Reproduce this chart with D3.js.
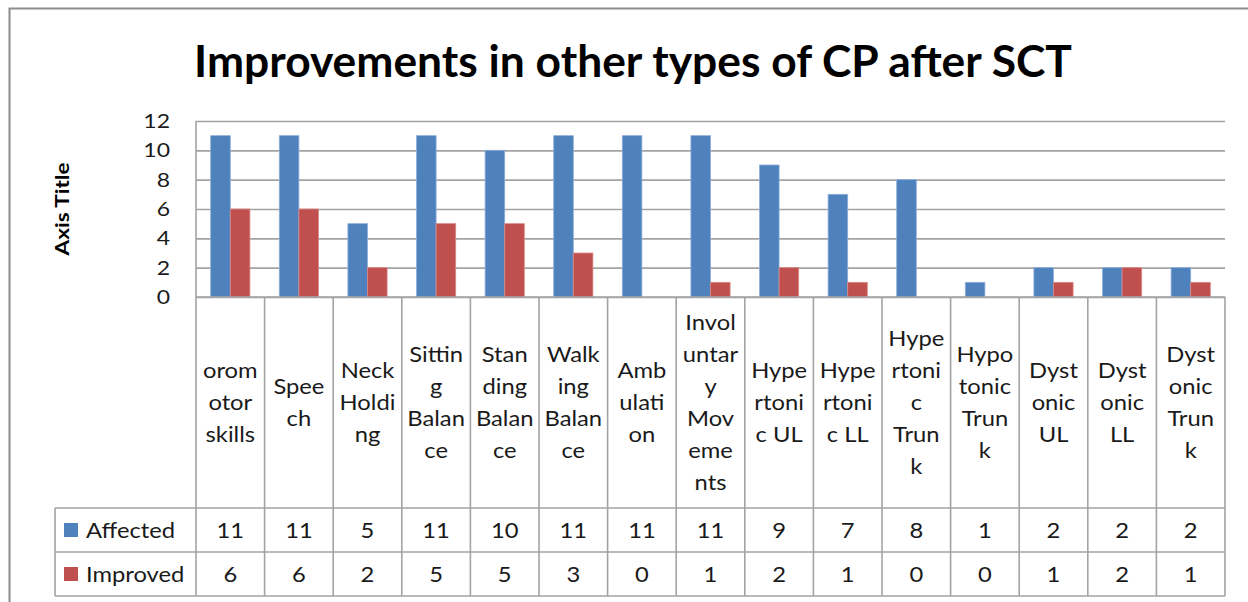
<!DOCTYPE html>
<html>
<head>
<meta charset="utf-8">
<script src="https://cdn.jsdelivr.net/npm/d3@7"></script>
<style>
  html, body { margin: 0; padding: 0; background: #fff; }
  svg { display: block; }
</style>
</head>
<body>
<svg id="chart" width="1248" height="602"></svg>
<script>
// ---- data ----
const title = "Improvements in other types of CP after SCT";
const yAxisTitle = "Axis Title";
const categories = ["oromotor skills", "Speech", "Neck Holding", "Sitting Balance", "Standing Balance",
  "Walking Balance", "Ambulation", "Involuntary Movements", "Hypertonic UL", "Hypertonic LL",
  "Hypertonic Trunk", "Hypotonic Trunk", "Dystonic UL", "Dystonic LL", "Dystonic Trunk"];
// category labels as they are wrapped in the data table
const categoryLabelLines = [
  ["orom", "otor", "skills"], ["Spee", "ch"], ["Neck", "Holdi", "ng"], ["Sittin", "g", "Balan", "ce"],
  ["Stan", "ding", "Balan", "ce"], ["Walk", "ing", "Balan", "ce"], ["Amb", "ulati", "on"],
  ["Invol", "untar", "y", "Mov", "eme", "nts"], ["Hype", "rtoni", "c UL"], ["Hype", "rtoni", "c LL"],
  ["Hype", "rtoni", "c", "Trun", "k"], ["Hypo", "tonic", "Trun", "k"], ["Dyst", "onic", "UL"],
  ["Dyst", "onic", "LL"], ["Dyst", "onic", "Trun", "k"]];
const seriesNames = ["Affected", "Improved"];
const affected = [11, 11, 5, 11, 10, 11, 11, 11, 9, 7, 8, 1, 2, 2, 2];
const improved = [6, 6, 2, 5, 5, 3, 0, 1, 2, 1, 0, 0, 1, 2, 1];
const yTicks = [0, 2, 4, 6, 8, 10, 12];

// ---- layout ----
const colors = { Affected: "#4F81BD", Improved: "#C0504D" };
const strokes = { Affected: "#8EAEDA", Improved: "#D98886" };
const seriesValues = { Affected: affected, Improved: improved };
const plot = { left: 196, right: 1225, top: 121, bottom: 297 };
const table = { catBottom: 508, row1Bottom: 552, row2Bottom: 596, legendLeft: 55 };
const gridColor = "#A3A3A3";
const textColor = "#1a1a1a";
const font = "Lato, 'Open Sans', sans-serif";
const bodySize = 22, bodyStretch = 1.08;
const tickSize = 20, tickStretch = 1.15;

const svg = d3.select("#chart");

// horizontally stretched text helper
function stext(parent, x, y, str, size, sx, anchor, weight) {
  const g = parent.append("g").attr("transform", `translate(${x},${y}) scale(${sx},1)`);
  return g.append("text").attr("x", 0).attr("y", 0).attr("dy", "0.35em")
    .attr("text-anchor", anchor || "middle").attr("font-family", font)
    .attr("font-weight", weight || "normal").attr("font-size", size).attr("fill", textColor).text(str);
}

// outer chart border
svg.append("rect").attr("x", 9.5).attr("y", 8.5).attr("width", 1260).attr("height", 620)
  .attr("fill", "#fff").attr("stroke", "#8c8c8c").attr("stroke-width", 2);

// scales
const x0 = d3.scaleBand().domain(categories).range([plot.left, plot.right]).padding(0);
const x1 = d3.scaleBand().domain(seriesNames).range([0, x0.bandwidth()]).paddingInner(0).paddingOuter(0.75);
const y = d3.scaleLinear().domain([0, 12]).range([plot.bottom, plot.top]);

// gridlines
const grid = svg.append("g").attr("transform", `translate(${plot.left},0)`)
  .call(d3.axisLeft(y).tickValues(yTicks).tickSize(-(plot.right - plot.left)).tickFormat(""));
grid.select(".domain").remove();
grid.selectAll(".tick line").attr("stroke", gridColor).attr("stroke-width", 1.6);

// y axis line
svg.append("line").attr("x1", plot.left).attr("x2", plot.left).attr("y1", plot.top).attr("y2", plot.bottom)
  .attr("stroke", gridColor).attr("stroke-width", 1.6);

// y axis labels (positions from the axis scale)
const yAxis = svg.append("g").attr("transform", `translate(${plot.left},0)`)
  .call(d3.axisLeft(y).tickValues(yTicks).tickSize(0).tickPadding(26));
yAxis.select(".domain").remove();
yAxis.selectAll(".tick text")
  .attr("font-family", font).attr("font-size", tickSize).attr("fill", textColor)
  .attr("transform", function () {
    const xx = +d3.select(this).attr("x");
    return `translate(${xx},0) scale(${tickStretch},1) translate(${-xx},0)`;
  });

// bars
const groups = svg.append("g").selectAll("g").data(categories).join("g")
  .attr("transform", d => `translate(${x0(d)},0)`);
groups.selectAll("rect")
  .data((d, i) => seriesNames.map(s => ({ s, v: seriesValues[s][i] })))
  .join("rect")
  .filter(d => d.v > 0)
  .attr("x", d => x1(d.s))
  .attr("y", d => y(d.v))
  .attr("width", x1.bandwidth())
  .attr("height", d => y(0) - y(d.v))
  .attr("fill", d => colors[d.s])
  .attr("stroke", d => strokes[d.s])
  .attr("stroke-width", 0.8);

// data table lines
const tl = svg.append("g").attr("stroke", gridColor).attr("stroke-width", 1.6);
tl.append("line").attr("x1", plot.left).attr("x2", plot.right).attr("y1", plot.bottom).attr("y2", plot.bottom);
[table.catBottom, table.row1Bottom, table.row2Bottom].forEach(yy => {
  tl.append("line").attr("x1", table.legendLeft).attr("x2", plot.right).attr("y1", yy).attr("y2", yy);
});
tl.append("line").attr("x1", table.legendLeft).attr("x2", table.legendLeft)
  .attr("y1", table.catBottom).attr("y2", table.row2Bottom);
categories.concat([null]).forEach(c => {
  const xx = c === null ? plot.right : x0(c);
  tl.append("line").attr("x1", xx).attr("x2", xx).attr("y1", plot.bottom).attr("y2", table.row2Bottom);
});

// category labels
const lineH = 32;
const catMid = (plot.bottom + table.catBottom) / 2;
categories.forEach((c, i) => {
  const lines = categoryLabelLines[i];
  const cx = x0(c) + x0.bandwidth() / 2;
  lines.forEach((ln, j) => {
    stext(svg, cx, catMid + (j - (lines.length - 1) / 2) * lineH, ln, bodySize, bodyStretch);
  });
});

// table values + legend
const rowMids = { Affected: (table.catBottom + table.row1Bottom) / 2, Improved: (table.row1Bottom + table.row2Bottom) / 2 };
seriesNames.forEach(s => {
  const ym = rowMids[s];
  svg.append("rect").attr("x", 64).attr("y", ym - 7).attr("width", 14).attr("height", 14).attr("fill", colors[s]);
  stext(svg, 86, ym, s, bodySize, bodyStretch, "start");
  categories.forEach((c, i) => {
    stext(svg, x0(c) + x0.bandwidth() / 2, ym, seriesValues[s][i], bodySize, bodyStretch);
  });
});

// title (fitted to the reference width)
const tg = svg.append("g");
const tt = tg.append("text").attr("x", 0).attr("y", 0).attr("text-anchor", "middle")
  .attr("font-family", font).attr("font-weight", "bold").attr("font-size", 43).attr("fill", "#000").text(title);
const tw = tt.node().getComputedTextLength();
tg.attr("transform", `translate(633,77) scale(${878 / tw},1)`);

// y axis title
const ag = svg.append("g");
const at = ag.append("text").attr("x", 0).attr("y", 0).attr("text-anchor", "middle")
  .attr("font-family", font).attr("font-weight", "bold").attr("font-size", 19).attr("fill", "#000").text(yAxisTitle);
const aw = at.node().getComputedTextLength();
ag.attr("transform", `translate(69,209) rotate(-90) scale(${93 / aw},1)`);
</script>
</body>
</html>
